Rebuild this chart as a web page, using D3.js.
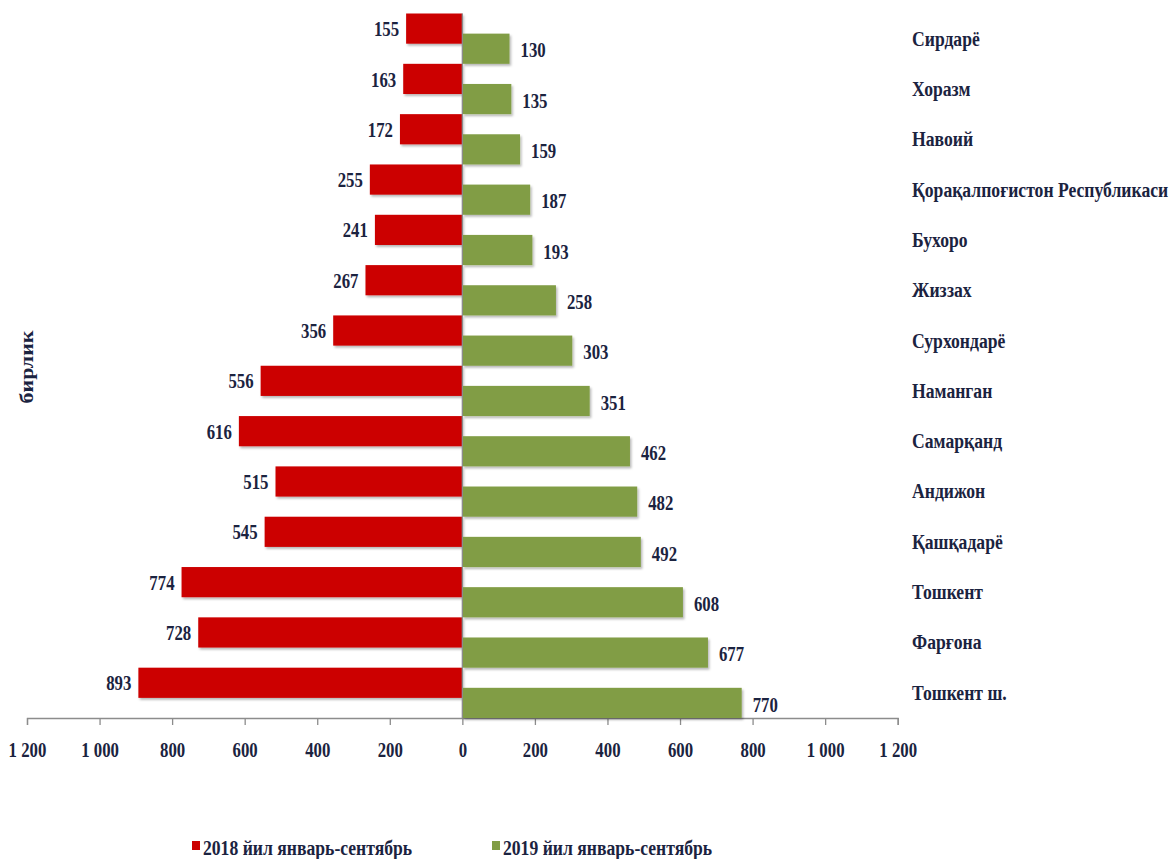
<!DOCTYPE html>
<html>
<head>
<meta charset="utf-8">
<script src="https://cdn.jsdelivr.net/npm/d3@7"></script>
<style>
  html, body { margin: 0; padding: 0; background: #fff; }
  svg { display: block; }
  text { font-family: "Liberation Serif", "Times New Roman", serif; font-weight: bold; fill: #1b2340; }
</style>
</head>
<body>
<svg id="chart" width="1170" height="859"></svg>
<script>
const categories = ["Сирдарё", "Хоразм", "Навоий", "Қорақалпоғистон Республикаси", "Бухоро", "Жиззах",
  "Сурхондарё", "Наманган", "Самарқанд", "Андижон", "Қашқадарё", "Тошкент", "Фарғона", "Тошкент ш."];
const values2018 = [155, 163, 172, 255, 241, 267, 356, 556, 616, 515, 545, 774, 728, 893];
const values2019 = [130, 135, 159, 187, 193, 258, 303, 351, 462, 482, 492, 608, 677, 770];
const seriesNames = ["2018 йил январь-сентябрь", "2019 йил январь-сентябрь"];
const tickValues = [-1200, -1000, -800, -600, -400, -200, 0, 200, 400, 600, 800, 1000, 1200];
const yTitle = "бирлик";

const RED = "#cc0000", GREEN = "#819d45";
const SX = 0.84, FS = 20, FS2 = 21;

const svg = d3.select("#chart");
const defs = svg.append("defs");
const f = defs.append("filter").attr("id", "shadow").attr("x", "-5%").attr("y", "-20%").attr("width", "115%").attr("height", "160%");
f.append("feDropShadow").attr("dx", 1.5).attr("dy", 2).attr("stdDeviation", 1.2)
  .attr("flood-color", "#000").attr("flood-opacity", 0.28);

const x = d3.scaleLinear().domain([-1200, 1200]).range([27, 897.7]);
const y = d3.scaleBand().domain(categories).range([13.5, 718]).padding(0);
const bw = y.bandwidth();
const barH = bw * 0.6;

const fmt = d3.formatLocale({ decimal: ",", thousands: " ", grouping: [3] }).format(",d");

// axis
const axis = d3.axisBottom(x).tickValues(tickValues).tickSize(7).tickPadding(18)
  .tickFormat(d => fmt(Math.abs(d)));
const ag = svg.append("g").attr("transform", `translate(0,718)`).call(axis);
ag.select(".domain").attr("stroke", "#8c8c8c").attr("stroke-width", 1.3);
ag.selectAll(".tick line").attr("stroke", "#8c8c8c").attr("stroke-width", 1.3);
ag.selectAll(".tick text").attr("font-size", FS).attr("fill", "#1b2340")
  .attr("transform", `scale(${SX},1)`);
ag.attr("font-family", null);

// bars
const gBars = svg.append("g");
gBars.selectAll("rect.r").data(categories).join("rect")
  .attr("class", "r")
  .attr("x", (c, i) => x(-values2018[i]))
  .attr("y", c => y(c))
  .attr("width", (c, i) => x(0) - x(-values2018[i]))
  .attr("height", barH)
  .attr("fill", RED)
  .attr("filter", "url(#shadow)");
gBars.selectAll("rect.g").data(categories).join("rect")
  .attr("class", "g")
  .attr("x", x(0))
  .attr("y", c => y(c) + bw - barH)
  .attr("width", (c, i) => x(values2019[i]) - x(0))
  .attr("height", barH)
  .attr("fill", GREEN)
  .attr("filter", "url(#shadow)");

// zero line
svg.append("line").attr("x1", x(0)).attr("x2", x(0)).attr("y1", 13.5).attr("y2", 718)
  .attr("stroke", "#8c8c8c").attr("stroke-width", 1.3);

function label(g, tx, ty, txt, anchor, size) {
  return g.append("text")
    .attr("transform", `translate(${tx},${ty}) scale(${SX},1)`)
    .attr("text-anchor", anchor)
    .attr("font-size", size || FS)
    .text(txt);
}

// data labels
const gl = svg.append("g");
categories.forEach((c, i) => {
  label(gl, x(-values2018[i]) - 7, y(c) + barH / 2 + 1 + FS * 0.33, values2018[i], "end");
  label(gl, x(values2019[i]) + 11, y(c) + bw - barH / 2 + 2 + FS * 0.33, values2019[i], "start");
  label(gl, 912, y(c) + bw / 2 + FS2 * 0.33, c, "start", FS2);
});

// y title (rotated; glyph height squeezed horizontally)
svg.append("text")
  .attr("transform", `translate(33,367) rotate(-90) scale(1,${SX})`)
  .attr("text-anchor", "middle")
  .attr("font-size", 22)
  .text(yTitle);

// legend
const leg = svg.append("g");
[[RED, 192, 203], [GREEN, 492, 503]].forEach((d, i) => {
  leg.append("rect").attr("x", d[1]).attr("y", 841).attr("width", 8).attr("height", 9).attr("fill", d[0]);
  label(leg, d[2], 855, seriesNames[i], "start", FS2);
});
</script>
</body>
</html>
